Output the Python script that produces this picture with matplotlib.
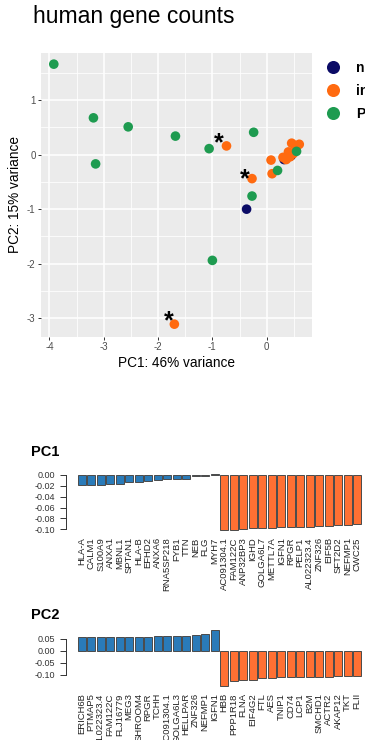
import matplotlib
matplotlib.use('Agg')
import matplotlib.pyplot as plt
from matplotlib.lines import Line2D
import numpy as np

plt.rcParams['font.family'] = ['Liberation Sans', 'DejaVu Sans']
plt.rcParams['axes.unicode_minus'] = False

# PCA scores per group (PC1, PC2)
groups = ['normal', 'infected', 'PBMC']
navy_x = [0.32, -0.37, 0.45]
navy_y = [-0.09, -1.00, -0.02]
orange_x = [-0.74, -0.27, 0.08, 0.10, -1.70, 0.46, 0.60, 0.55, 0.40, 0.43, 0.36, 0.49, 0.52, 0.30]
orange_y = [0.16, -0.44, -0.10, -0.35, -3.11, 0.21, 0.19, 0.14, 0.05, -0.04, -0.09, 0.02, 0.17, -0.05]
green_x = [-3.92, -3.19, -3.15, -2.55, -1.68, -1.06, -0.24, -0.27, 0.20, -1.00, 0.55]
green_y = [1.66, 0.675, -0.17, 0.51, 0.34, 0.11, 0.41, -0.76, -0.29, -1.94, 0.06]
# asterisk annotations
star_x = [-0.89, -0.41, -1.80]
star_y = [0.34, -0.32, -2.93]

# top loadings
pc1_genes = ['HLA-A', 'CALM1', 'S100A9', 'ANXA1', 'MBNL1', 'SPTAN1', 'HLA-B', 'EFHD2',
             'ANXA6', 'RNA5SP218', 'FYB1', 'TTN', 'NEB', 'FLG', 'MYH7',
             'AC091304.1', 'FAM122C', 'ANP32BP3', 'IGHD', 'GOLGA6L7', 'METTL7A', 'IGFN1',
             'RPGR', 'PELP1', 'AL022323.4', 'ZNF326', 'EIF5B', 'SFT2D2', 'NEFMP1', 'CWC25']
pc1_vals = [-0.0195, -0.0195, -0.018, -0.0177, -0.0165, -0.0134, -0.0134, -0.0116,
            -0.0104, -0.008, -0.008, -0.008, -0.003, -0.003, 0.0018,
            -0.1012, -0.1006, -0.0988, -0.0976, -0.0976, -0.097, -0.0963,
            -0.0957, -0.0957, -0.0957, -0.0933, -0.0933, -0.0915, -0.0915, -0.0909]
pc2_genes = ['ERICH6B', 'PTMAP5', 'AL022323.4', 'FAM122C', 'FLJ16779', 'MEG3', 'SHROOM4',
             'RPGR', 'TCHH', 'AC091304.1', 'GOLGA6L3', 'HELLPAR', 'ZNF326', 'NEFMP1', 'IGFN1',
             'HBB', 'PPP1R18', 'FLNA', 'EIF4G2', 'FTL', 'AES', 'TNIP1', 'CD74', 'LCP1',
             'B2M', 'SMCHD1', 'ACTR2', 'AKAP12', 'TKT', 'FLII']
pc2_vals = [0.0556, 0.0556, 0.0556, 0.0556, 0.0556, 0.0556, 0.057,
            0.058, 0.060, 0.060, 0.061, 0.0625, 0.067, 0.070, 0.085,
            -0.147, -0.126, -0.124, -0.122, -0.1125, -0.1125, -0.111, -0.111, -0.111,
            -0.110, -0.108, -0.108, -0.107, -0.107, -0.107]

NAVY = '#0b0b66'
ORANGE = '#ff6a10'
GREEN = '#1e9b50'
BLUE = '#2a7bb9'
BORANGE = '#ff7033'

W, H = 365, 740
fig = plt.figure(figsize=(W / 100, H / 100), dpi=100)


def px_axes(left, top, right, bottom):
    return fig.add_axes([left / W, 1 - bottom / H, (right - left) / W, (bottom - top) / H])


# ---- PCA scatter (ggplot look) ----
ax = px_axes(41.3, 52.7, 312.3, 336.7)
ax.set_facecolor('#EBEBEB')
for s in ax.spines.values():
    s.set_visible(False)
ax.set_xlim(-4.15, 0.84)
ax.set_ylim(-3.34, 1.87)
ax.set_xticks(np.arange(-4, 1))
ax.set_yticks(np.arange(-3, 2))
ax.set_xticks(np.arange(-3.5, 1, 1), minor=True)
ax.set_yticks(np.arange(-2.5, 2, 1), minor=True)
ax.grid(which='major', color='white', lw=1.1)
ax.grid(which='minor', color='white', lw=0.55)
ax.set_axisbelow(True)
ax.tick_params(which='minor', length=0)
ax.tick_params(which='major', length=2.5, width=0.7, color='#333333',
               labelsize=7, labelcolor='#4d4d4d', pad=1.6)

ax.scatter(navy_x, navy_y, s=48, color=NAVY, edgecolors='none', zorder=3)
ax.scatter(orange_x, orange_y, s=48, color=ORANGE, edgecolors='none', zorder=3)
ax.scatter(green_x, green_y, s=48, color=GREEN, edgecolors='none', zorder=3)
for sx, sy in zip(star_x, star_y):
    ax.annotate('*', (sx, sy), xytext=(0, -5), textcoords='offset points',
                ha='center', va='center', fontsize=18, fontweight='bold', color='black', zorder=4)

ax.set_xlabel('PC1: 46% variance', fontsize=9.8)
ax.xaxis.set_label_coords(0.5, -(362.7 - 336.7) / 284)
ax.xaxis.label.set_va('center')
ax.set_ylabel('PC2: 15% variance', fontsize=9.8)
ax.yaxis.set_label_coords((15 - 41.3) / 271, 0.5)
ax.yaxis.label.set_va('center')

handles = [Line2D([], [], ls='none', marker='o', markersize=9.4, color=c, markeredgewidth=0)
           for c in (NAVY, ORANGE, GREEN)]
fig.legend(handles, groups, loc='upper left', bbox_to_anchor=(326 / W, 1 - 61 / H),
           frameon=False, borderpad=0, borderaxespad=0, handlelength=1.0,
           handletextpad=1.15, labelspacing=0.63, prop={'weight': 'bold', 'size': 10})

fig.text(33 / W, 1 - 17 / H, 'human gene counts', fontsize=16.5, va='center')


# ---- loading barplots (base R look) ----
def barpanel(top, bottom, genes, vals, yticks, title, title_y):
    bx = px_axes(66.4, top, 372.4, bottom)
    n = len(vals)
    pos = 0.7 + 1.2 * np.arange(n)
    colors = [BLUE if i < n // 2 else BORANGE for i in range(n)]
    bx.bar(pos, vals, width=1.0, color=colors, edgecolor='#4a4a4a', linewidth=0.7)
    xpad = 0.04 * (1.2 * n - 0.2)
    bx.set_xlim(0.2 - xpad, 1.2 * n + xpad)
    lo, hi = min(0, min(vals)), max(0, max(vals))
    ypad = 0.04 * (hi - lo)
    bx.set_ylim(lo - ypad, hi + ypad)
    for k in ('top', 'right', 'bottom'):
        bx.spines[k].set_visible(False)
    bx.spines['left'].set_bounds(yticks[0], yticks[-1])
    bx.spines['left'].set_linewidth(0.7)
    bx.spines['left'].set_color('#333333')
    bx.set_yticks(yticks)
    bx.set_yticklabels(['%.2f' % t for t in yticks])
    bx.set_xticks(pos)
    bx.set_xticklabels(genes, rotation=90)
    bx.tick_params(axis='x', length=0, pad=3.6, labelsize=6.8, labelcolor='#222222')
    bx.tick_params(axis='y', length=4.3, width=0.7, color='#333333', pad=3.6,
                   labelsize=6.5, labelcolor='#333333')
    bx.patch.set_visible(False)
    fig.text(31 / W, 1 - title_y / H, title, fontweight='bold', fontsize=10.5, va='center')
    return bx


barpanel(471.5, 532.3, pc1_genes, pc1_vals, [-0.10, -0.08, -0.06, -0.04, -0.02, 0.00], 'PC1', 451.7)
barpanel(628.1, 688.2, pc2_genes, pc2_vals, [-0.10, -0.05, 0.00, 0.05], 'PC2', 615)

fig.savefig('out.png', dpi=100)
